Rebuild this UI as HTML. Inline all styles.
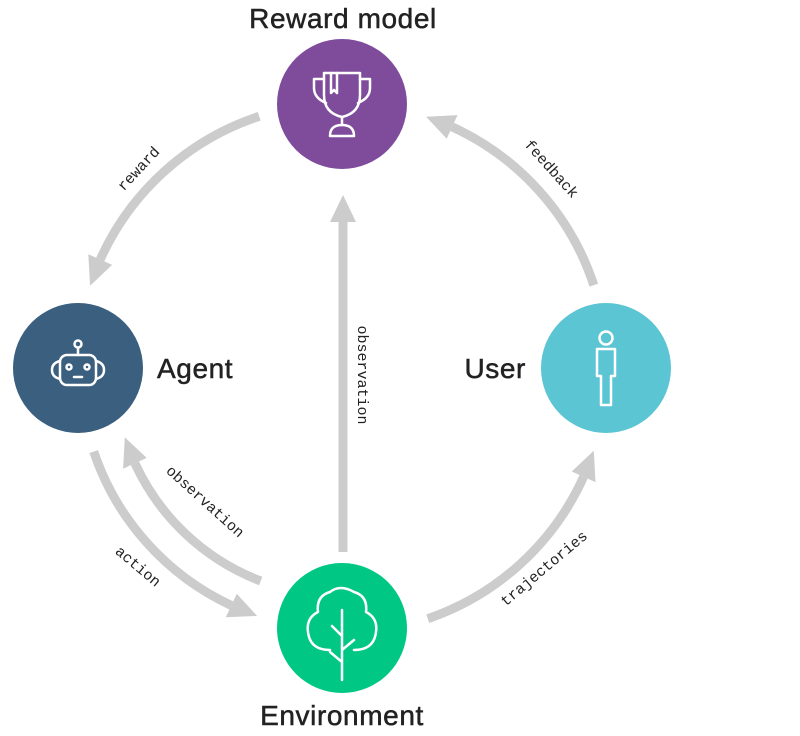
<!DOCTYPE html>
<html><head><meta charset="utf-8"><style>
html,body{margin:0;padding:0;background:#fff;width:800px;height:736px;overflow:hidden}
</style></head><body>
<svg width="800" height="736" viewBox="0 0 800 736" xmlns="http://www.w3.org/2000/svg">
<g fill="none" stroke="#cccccc" stroke-width="9">
<path d="M259.2,116.3 A265,265 0 0 0 100.2,259.6"/>
<path d="M593.8,285.2 A265,265 0 0 0 452.1,126.9"/>
<path d="M93.7,451.6 A262,262 0 0 0 231.3,605.5"/>
<path d="M260.7,581.0 A228,228 0 0 1 134.9,463.3"/>
<path d="M427.8,618.7 A265,265 0 0 0 583.6,476.8"/>
<path d="M343,552 L343,220"/>
</g>
<g fill="#cccccc">
<polygon points="90.1,285.7 88.3,254.3 112.1,264.9"/>
<polygon points="426.1,116.7 457.5,115.1 446.7,138.7"/>
<polygon points="257.1,615.9 225.8,617.3 236.8,593.7"/>
<polygon points="124.8,437.3 123.1,468.7 146.7,457.9"/>
<polygon points="593.8,450.8 595.5,482.1 571.7,471.5"/>
<polygon points="343,195 330,222 356,222"/>
</g>
<circle cx="342" cy="104" r="65" fill="#7f4c9c"/>
<circle cx="78" cy="368" r="65" fill="#3b5f7f"/>
<circle cx="606" cy="368" r="65" fill="#5bc5d4"/>
<circle cx="342" cy="628" r="65" fill="#00c884"/>
<g fill="none" stroke="#fff" stroke-width="2.5" stroke-linejoin="round" stroke-linecap="round">
<path d="M324,73 H360 V95 Q360,113 342,117 Q324,113 324,95 Z"/>
<path d="M324,79 H314 V88 Q314,98 326,103"/>
<path d="M360,79 H370 V88 Q370,98 358,103"/>
<path d="M331,73 V93 L334,90 L337,93 V73"/>
<path d="M342,117 V125"/>
<path d="M330,136 Q330,125 342,125 Q354,125 354,136 Z"/>
<rect x="60" y="355" width="36" height="30" rx="7"/>
<path d="M60,361 Q52,363 52,370 Q52,377 60,379"/>
<path d="M96,361 Q104,363 104,370 Q104,377 96,379"/>
<path d="M78,355 V348"/><circle cx="78" cy="344" r="3.5"/>
<circle cx="69" cy="367" r="2.5"/><circle cx="87" cy="367" r="2.5"/>
<path d="M74,377 H82"/>
<circle cx="606" cy="338" r="6.5"/>
<path d="M597,349 H615 V376 H611 V405 H601 V376 H597 Z"/>
<path d="M330,650 Q310,650 308,632 Q306,618 318,612 Q316,596 330,592 Q340,584 354,592 Q368,596 366,612 Q378,618 376,632 Q374,650 354,650"/>
<path d="M342,610 V680 M342,636 L332,626 M342,650 L354,640 M342,662 L330,652"/>
</g>
<g font-family="'Liberation Sans',sans-serif" font-size="28" fill="#222" stroke="#222" stroke-width="0.5" letter-spacing="0.6">
<text x="343" y="28" text-anchor="middle">Reward model</text>
<text x="157" y="378">Agent</text>
<text x="526" y="378" text-anchor="end">User</text>
<text x="342" y="725" text-anchor="middle">Environment</text>
</g>
<g font-family="'Liberation Mono',monospace" font-size="15" fill="#222" text-anchor="middle">
<text transform="translate(142,172) rotate(-47)">reward</text>
<text transform="translate(548,172) rotate(48)">feedback</text>
<text transform="translate(135,570) rotate(40)">action</text>
<text transform="translate(202,505) rotate(42)">observation</text>
<text transform="translate(547,572) rotate(-40)">trajectories</text>
<text transform="translate(358,375) rotate(90)">observation</text>
</g>
</svg>
</body></html>
